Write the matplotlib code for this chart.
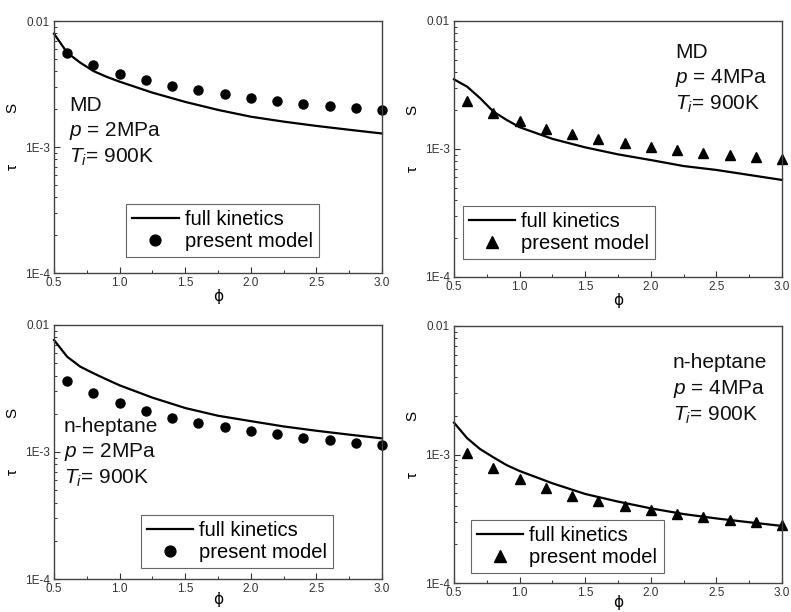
import matplotlib
matplotlib.use("Agg")
import matplotlib.pyplot as plt
from matplotlib.ticker import LogLocator, NullFormatter, MultipleLocator

plt.rcParams['font.family'] = ['Liberation Sans', 'DejaVu Sans']
plt.rcParams['mathtext.fontset'] = 'custom'
plt.rcParams['mathtext.rm'] = 'Liberation Sans'
plt.rcParams['mathtext.it'] = 'Liberation Sans:italic'

# ---- data ----
phi_line = [0.5, 0.6, 0.7, 0.8, 0.9, 1.0, 1.25, 1.5, 1.75, 2.0, 2.25, 2.5, 2.75, 3.0]
phi_pts = [0.6, 0.8, 1.0, 1.2, 1.4, 1.6, 1.8, 2.0, 2.2, 2.4, 2.6, 2.8, 3.0]

md2_full = [0.00794, 0.00561, 0.00467, 0.00401, 0.00361, 0.00330, 0.00270, 0.00228, 0.00197,
            0.00174, 0.00159, 0.00147, 0.00137, 0.00128]
md2_model = [0.00553, 0.00448, 0.00382, 0.00338, 0.00305, 0.00282, 0.00262, 0.00245, 0.00232,
             0.00221, 0.00210, 0.00203, 0.00195]

md4_full = [0.00350, 0.00307, 0.00249, 0.00196, 0.00169, 0.00148, 0.00120, 0.00103, 0.000908,
            0.000820, 0.000736, 0.000686, 0.000627, 0.000573]
md4_model = [0.00239, 0.00192, 0.00164, 0.00143, 0.00130, 0.00120, 0.00112, 0.00104, 0.00098,
             0.000936, 0.000898, 0.000861, 0.000830]

hep2_full = [0.00762, 0.00563, 0.00470, 0.00417, 0.00373, 0.00335, 0.00268, 0.00222, 0.00193,
             0.00175, 0.00159, 0.00147, 0.00137, 0.00128]
hep2_model = [0.00364, 0.00290, 0.00243, 0.00210, 0.00186, 0.00170, 0.00157, 0.00147, 0.00138,
              0.00130, 0.00124, 0.00118, 0.00114]

hep4_full = [0.00177, 0.00134, 0.00110, 0.000951, 0.000828, 0.000744, 0.000597, 0.000493, 0.000430,
             0.000381, 0.000344, 0.000318, 0.000297, 0.000278]
hep4_model = [0.00103, 0.000780, 0.000641, 0.000546, 0.000478, 0.000435, 0.000397, 0.000370,
              0.000342, 0.000325, 0.000309, 0.000297, 0.000283]

x_ticks = [0.5, 1.0, 1.5, 2.0, 2.5, 3.0]
y_ticks = [1e-4, 1e-3, 1e-2]
y_tick_labels = ['1E-4', '1E-3', '0.01']

W, H = 791, 612
fig = plt.figure(figsize=(W / 100, H / 100), dpi=100)

panels = [
    dict(box=(54, 21, 382, 273), full=md2_full, model=md2_model, marker='o', fuel='MD', p='2MPa',
         txt=(69, 105), leg=(0.22, 0.063), xpad=0),
    dict(box=(454, 21, 782, 277), full=md4_full, model=md4_model, marker='^', fuel='MD', p='4MPa',
         txt=(675, 52), leg=(0.027, 0.07), xpad=0),
    dict(box=(54, 325, 382, 579), full=hep2_full, model=hep2_model, marker='o', fuel='n-heptane', p='2MPa',
         txt=(64, 426), leg=(0.265, 0.043), xpad=-2),
    dict(box=(454, 326, 782, 583), full=hep4_full, model=hep4_model, marker='^', fuel='n-heptane', p='4MPa',
         txt=(673, 363), leg=(0.052, 0.039), xpad=-3),
]

for pn in panels:
    l, t, r, b = pn['box']
    ax = fig.add_axes([l / W, 1 - b / H, (r - l) / W, (b - t) / H])
    ax.set_yscale('log')
    ax.plot(phi_line, pn['full'], color='black', lw=1.6, label='full kinetics', clip_on=False)
    ms = 6.5 if pn['marker'] == 'o' else 7
    ax.plot(phi_pts, pn['model'], linestyle='none', marker=pn['marker'], color='black', ms=ms,
            label='present model', clip_on=False)
    ax.set_xlim(0.5, 3.0)
    ax.set_ylim(1e-4, 1e-2)
    ax.set_xticks(x_ticks)
    ax.set_xticklabels([f'{v:.1f}' for v in x_ticks])
    ax.xaxis.set_minor_locator(MultipleLocator(0.25))
    ax.set_yticks(y_ticks)
    ax.set_yticklabels(y_tick_labels)
    ax.yaxis.set_minor_locator(LogLocator(base=10, subs=range(2, 10)))
    ax.yaxis.set_minor_formatter(NullFormatter())
    ax.tick_params(which='both', direction='in', top=False, right=False, labelsize=8.5,
                   colors='#333333', pad=3)
    ax.tick_params(which='major', length=4, width=0.8)
    ax.tick_params(which='minor', length=2.5, width=0.7)
    for s in ax.spines.values():
        s.set_color('#444444')
        s.set_linewidth(1.0)
    ax.set_xlabel('ϕ', fontsize=11, labelpad=pn['xpad'], family=['DejaVu Sans'])
    ax.set_ylabel('τ            S', fontsize=11)
    ax.yaxis.set_label_coords(-0.105, 0.54)

    tx, ty = pn['txt']
    lines = [pn['fuel'], r'$p$ = ' + pn['p'], r'$T_i$= 900K']
    for i, s in enumerate(lines):
        fig.text(tx / W, 1 - (ty + i * 26) / H, s, fontsize=15, va='center', ha='left',
                 color='#111111')

    leg = ax.legend(loc='lower left', bbox_to_anchor=pn['leg'], borderaxespad=0, fontsize=14.5,
                    frameon=True, fancybox=False, edgecolor='#666666', handlelength=2.3,
                    handletextpad=0.3, labelspacing=0.15, borderpad=0.3, numpoints=1,
                    framealpha=1, markerscale=1.2)
    leg.get_frame().set_linewidth(0.8)

fig.savefig('out.png', dpi=100)
